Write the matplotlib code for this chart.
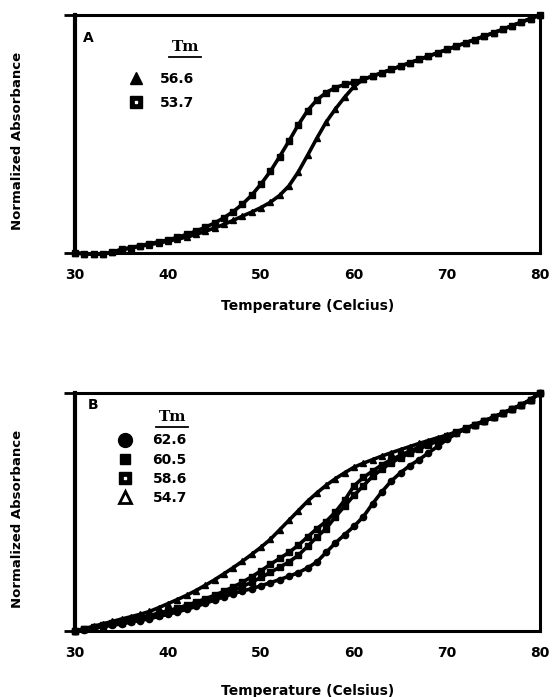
import matplotlib.pyplot as plt
from matplotlib.lines import Line2D
from matplotlib.legend_handler import HandlerTuple

plt.rcParams['font.family'] = 'DejaVu Sans'
plt.rcParams['font.weight'] = 'bold'

# temperatures (Celsius), one reading per degree
temps = list(range(30, 81))

# Panel A: normalized absorbance
a_tri_566 = [0.000, -0.003, -0.005, -0.004, 0.004, 0.013, 0.021, 0.028, 0.035, 0.042,
             0.050, 0.058, 0.067, 0.078, 0.091, 0.105, 0.120, 0.137, 0.155, 0.172,
             0.191, 0.213, 0.242, 0.282, 0.340, 0.410, 0.482, 0.550, 0.605, 0.655,
             0.700, 0.730, 0.743, 0.757, 0.771, 0.785, 0.799, 0.813, 0.827, 0.841,
             0.855, 0.869, 0.883, 0.897, 0.911, 0.925, 0.940, 0.955, 0.970, 0.985, 1.000]
a_sq_537 = [0.000, -0.003, -0.005, -0.004, 0.005, 0.015, 0.023, 0.031, 0.039, 0.047,
            0.055, 0.066, 0.078, 0.092, 0.108, 0.126, 0.148, 0.174, 0.205, 0.243,
            0.290, 0.343, 0.405, 0.470, 0.538, 0.598, 0.643, 0.674, 0.695, 0.708,
            0.718, 0.730, 0.743, 0.757, 0.771, 0.785, 0.799, 0.813, 0.827, 0.841,
            0.855, 0.869, 0.883, 0.897, 0.911, 0.925, 0.940, 0.955, 0.970, 0.985, 1.000]
a_labels = ['56.6', '53.7']

# Panel B: normalized absorbance
b_circ_626 = [0.000, 0.006, 0.012, 0.018, 0.024, 0.030, 0.037, 0.044, 0.052, 0.061,
              0.070, 0.080, 0.091, 0.103, 0.116, 0.130, 0.144, 0.157, 0.168, 0.178,
              0.190, 0.203, 0.216, 0.230, 0.245, 0.265, 0.290, 0.330, 0.370, 0.405,
              0.440, 0.480, 0.535, 0.585, 0.630, 0.665, 0.695, 0.720, 0.748, 0.776,
              0.805, 0.830, 0.850, 0.866, 0.882, 0.898, 0.915, 0.932, 0.950, 0.972, 1.000]
b_sq_605 = [0.000, 0.007, 0.014, 0.021, 0.028, 0.035, 0.043, 0.051, 0.059, 0.068,
            0.078, 0.089, 0.100, 0.112, 0.125, 0.139, 0.154, 0.170, 0.187, 0.205,
            0.225, 0.246, 0.268, 0.290, 0.318, 0.355, 0.395, 0.430, 0.480, 0.525,
            0.570, 0.610, 0.650, 0.680, 0.707, 0.728, 0.747, 0.765, 0.782, 0.798,
            0.813, 0.830, 0.850, 0.866, 0.882, 0.898, 0.915, 0.932, 0.950, 0.972, 1.000]
b_dsq_586 = [0.000, 0.008, 0.016, 0.024, 0.032, 0.040, 0.048, 0.056, 0.065, 0.075,
             0.085, 0.096, 0.108, 0.121, 0.135, 0.150, 0.167, 0.185, 0.205, 0.228,
             0.253, 0.280, 0.305, 0.330, 0.360, 0.395, 0.430, 0.460, 0.500, 0.550,
             0.610, 0.645, 0.672, 0.698, 0.720, 0.738, 0.756, 0.772, 0.788, 0.803,
             0.818, 0.834, 0.851, 0.866, 0.882, 0.898, 0.915, 0.932, 0.950, 0.972, 1.000]
b_tri_547 = [0.000, 0.010, 0.020, 0.030, 0.040, 0.050, 0.060, 0.070, 0.082, 0.098,
             0.115, 0.132, 0.150, 0.170, 0.192, 0.215, 0.240, 0.266, 0.293, 0.322,
             0.352, 0.385, 0.425, 0.465, 0.505, 0.545, 0.580, 0.612, 0.640, 0.665,
             0.688, 0.705, 0.720, 0.735, 0.749, 0.762, 0.775, 0.788, 0.800, 0.812,
             0.823, 0.837, 0.852, 0.867, 0.883, 0.899, 0.916, 0.933, 0.951, 0.972, 1.000]
b_labels = ['62.6', '60.5', '58.6', '54.7']

xticks = [30, 40, 50, 60, 70, 80]


def style_axes(ax, xlabel):
    ax.set_xlim(30, 80)
    ax.set_ylim(0, 1)
    ax.set_xticks(xticks)
    ax.set_yticks([0, 1])
    ax.set_yticklabels([])
    ax.tick_params(axis='x', length=0, pad=11, labelsize=10)
    ax.tick_params(axis='y', length=8, width=2, direction='out')
    for sp in ax.spines.values():
        sp.set_linewidth(2.2)
    ax.spines['left'].set_linewidth(3)
    ax.set_xlabel(xlabel, fontsize=10, fontweight='bold', labelpad=12)
    ax.set_ylabel('Normalized Absorbance', fontsize=9.5, fontweight='bold')
    ax.yaxis.set_label_coords(-0.11, 0.47)


def tm_header(ax, x, y):
    ax.text(x, y, 'Tm', transform=ax.transAxes, ha='center', va='center',
            fontsize=11, fontweight='bold', family='DejaVu Serif')
    ax.plot([x - 0.035, x + 0.035], [y - 0.042, y - 0.042], color='k', lw=1.3,
            transform=ax.transAxes, clip_on=False)


fig = plt.figure(figsize=(5.54, 6.97), dpi=100)

# ---- Panel A ----
axA = fig.add_axes([0.1354, 0.637, 0.8394, 0.3415])
axA.plot(temps, a_tri_566, color='k', lw=2.6, marker='^', ms=5, clip_on=False, zorder=3)
axA.plot(temps, a_sq_537, color='k', lw=2.6, marker='s', ms=4.5, clip_on=False, zorder=3)
style_axes(axA, 'Temperature (Celcius)')
axA.text(0.028, 0.905, 'A', transform=axA.transAxes, ha='center', va='center', fontsize=10)
tm_header(axA, 0.237, 0.865)

hA_tri = Line2D([], [], ls='none', marker='^', ms=9, color='k')
hA_sq = Line2D([], [], ls='none', marker='s', ms=8, color='k')
hA_dot = Line2D([], [], ls='none', marker='s', ms=2, color='w')
axA.legend([hA_tri, (hA_sq, hA_dot)], a_labels, loc='upper left',
           bbox_to_anchor=(0.116, 0.76), frameon=False, borderpad=0, borderaxespad=0,
           handlelength=1, handletextpad=1.2, labelspacing=0.7, fontsize=10,
           handler_map={tuple: HandlerTuple(ndivide=1)})

# ---- Panel B ----
axB = fig.add_axes([0.1354, 0.0947, 0.8394, 0.3415])
axB.plot(temps, b_circ_626, color='k', lw=2.6, marker='o', ms=4.5, clip_on=False, zorder=3)
axB.plot(temps, b_sq_605, color='k', lw=2.6, marker='s', ms=4.5, clip_on=False, zorder=3)
axB.plot(temps, b_dsq_586, color='k', lw=2.6, marker='s', ms=4.5, clip_on=False, zorder=3)
axB.plot(temps, b_tri_547, color='k', lw=2.6, marker='^', ms=5, clip_on=False, zorder=3)
style_axes(axB, 'Temperature (Celsius)')
axB.xaxis.labelpad = 17
axB.text(0.039, 0.95, 'B', transform=axB.transAxes, ha='center', va='center', fontsize=10)
tm_header(axB, 0.209, 0.897)

hB_circ = Line2D([], [], ls='none', marker='o', ms=10, color='k')
hB_sq = Line2D([], [], ls='none', marker='s', ms=7, color='k')
hB_dsq = Line2D([], [], ls='none', marker='s', ms=8, color='k')
hB_dot = Line2D([], [], ls='none', marker='s', ms=2, color='w')
hB_tri = Line2D([], [], ls='none', marker='^', ms=9, color='k', markerfacecolor='w', mew=2)
axB.legend([hB_circ, hB_sq, (hB_dsq, hB_dot), hB_tri], b_labels, loc='upper left',
           bbox_to_anchor=(0.092, 0.83), frameon=False, borderpad=0, borderaxespad=0,
           handlelength=1, handletextpad=1.5, labelspacing=0.38, fontsize=10,
           handler_map={tuple: HandlerTuple(ndivide=1)})

fig.savefig('out.png', dpi=100)
